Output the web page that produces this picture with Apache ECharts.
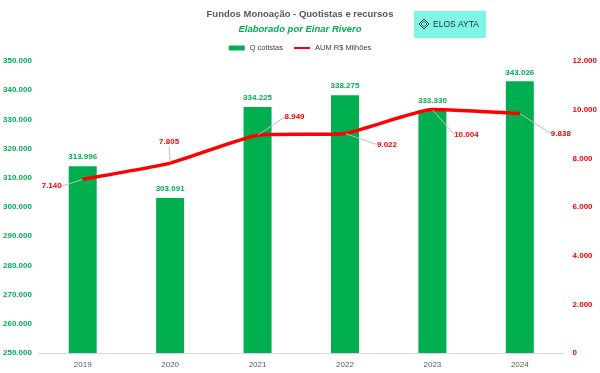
<!DOCTYPE html>
<html><head><meta charset="utf-8">
<script src="https://cdn.jsdelivr.net/npm/echarts@6/dist/echarts.min.js"></script>
<style>html,body{margin:0;padding:0;background:#fff}#c{width:600px;height:373px}</style>
</head><body><div id="c"></div>
<script>
var years = ['2019','2020','2021','2022','2023','2024'];
var cotistas = [313996, 303091, 334225, 338275, 333330, 343026];
var aum = [7140, 7805, 8949, 9022, 10004, 9838];
var labelOffsets = [[-31,7],[-1,-21],[37,-18],[42,11],[34,25],[41,20]];

function fmt(v){ return String(v).replace(/\B(?=(\d{3})+(?!\d))/g,'.'); }
var FONT = 'Liberation Sans';
var chart = echarts.init(document.getElementById('c'), null, {renderer:'canvas'});
chart.setOption({
  animation:false,
  textStyle:{fontFamily:FONT},
  title:[{
    text:'Fundos Monoação - Quotistas e recursos', left:'center', top:4,
    textStyle:{fontSize:9.5, fontWeight:'bold', color:'#595959', fontFamily:FONT}
  },{
    text:'Elaborado por Einar Rivero', left:'center', top:19,
    textStyle:{fontSize:9.5, fontWeight:'bold', fontStyle:'italic', color:'#00b050', fontFamily:FONT}
  }],
  legend:{
    top:39, left:'center', itemGap:10, itemWidth:16, itemHeight:5,
    textStyle:{fontSize:7.5, color:'#404040', fontFamily:FONT},
    data:[{name:'Q cotistas', icon:'rect'},{name:'AUM R$ Milhões', itemStyle:{opacity:0}}]
  },
  grid:{left:39, right:35, top:61, bottom:20},
  xAxis:{
    type:'category', data:years,
    axisLine:{lineStyle:{color:'#d9d9d9'}}, axisTick:{show:false},
    axisLabel:{fontSize:8, color:'#595959', margin:8, fontFamily:FONT}
  },
  yAxis:[{
    type:'value', min:250000, max:350000, interval:10000,
    splitLine:{show:false}, axisLine:{show:false}, axisTick:{show:false},
    axisLabel:{fontSize:8, fontWeight:'bold', color:'#00b050', formatter:fmt, align:'left', margin:36, fontFamily:FONT}
  },{
    type:'value', min:0, max:12000, interval:2000,
    splitLine:{show:false}, axisLine:{show:false}, axisTick:{show:false},
    axisLabel:{fontSize:8, fontWeight:'bold', color:'#ff0000', formatter:fmt, align:'left', margin:9, fontFamily:FONT}
  }],
  series:[{
    name:'Q cotistas', type:'bar', data:cotistas, barWidth:28, yAxisIndex:0,
    itemStyle:{color:'#00b050'},
    label:{show:true, position:'top', distance:5, fontSize:8, fontWeight:'bold', color:'#00b050', formatter:function(p){return fmt(p.value);}, fontFamily:FONT}
  },{
    name:'AUM R$ Milhões', type:'line', data:aum, yAxisIndex:1,
    smooth:0.15, showSymbol:true, symbol:'circle', symbolSize:1,
    itemStyle:{color:'#ff0000'},
    lineStyle:{color:'#ff0000', width:3.5},
    label:{show:true, position:'inside', fontSize:8, fontWeight:'bold', color:'#ff0000', formatter:function(p){return fmt(p.value);}, fontFamily:FONT},
    labelLine:{show:true, lineStyle:{color:'#bfbfbf', width:1}},
    labelLayout:function(p){ var o = labelOffsets[p.dataIndex]; return {dx:o[0], dy:o[1]}; }
  }],
  graphic:[{
    type:'group', left:414, top:11,
    children:[
      {type:'rect', shape:{x:0,y:0,width:72,height:27}, style:{fill:'#7ff5e5'}},
      {type:'polygon', shape:{points:[[10,8],[15,13],[10,18],[5,13]]}, style:{fill:'none', stroke:'#2b3a3a', lineWidth:1}},
      {type:'polygon', shape:{points:[[10,10],[13,13],[10,16],[7,13]]}, style:{fill:'none', stroke:'#2b3a3a', lineWidth:0.8}},
      {type:'text', style:{x:19, y:13.5, text:'ELOS AYTA', fill:'#1f2d2d', fontSize:8.5, fontFamily:FONT, verticalAlign:'middle'}}
    ]
  }]
});
</script></body></html>
